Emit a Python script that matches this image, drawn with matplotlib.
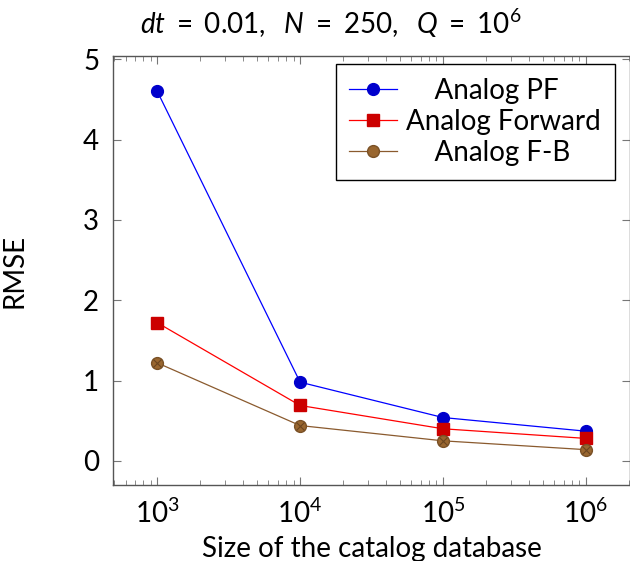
import matplotlib
matplotlib.use("Agg")
import matplotlib.pyplot as plt
from matplotlib.ticker import LogLocator, NullFormatter

plt.rcParams['font.family'] = ['Lato', 'DejaVu Sans']
plt.rcParams['mathtext.fontset'] = 'custom'
plt.rcParams['mathtext.rm'] = 'Lato'
plt.rcParams['mathtext.it'] = 'Lato:italic'
plt.rcParams['mathtext.sf'] = 'Lato'

catalog_sizes = [1e3, 1e4, 1e5, 1e6]
rmse_pf = [4.60, 0.98, 0.54, 0.37]
rmse_forward = [1.72, 0.69, 0.40, 0.28]
rmse_fb = [1.22, 0.44, 0.25, 0.14]
series_labels = ["    Analog PF", "Analog Forward", "    Analog F-B"]
y_ticks = [0, 1, 2, 3, 4, 5]

fig = plt.figure(figsize=(6.3, 5.61), dpi=100)
ax = fig.add_axes([113 / 630, 1 - 485 / 561, 517 / 630, 429 / 561])

ax.plot(catalog_sizes, rmse_pf, color='blue', lw=0.9, marker='o', ms=8.5,
        mfc='#0000cc', mec='#0000cc', label=series_labels[0])
ax.plot(catalog_sizes, rmse_forward, color='red', lw=0.9, marker='s', ms=8,
        mfc='#cc0000', mec='#cc0000', label=series_labels[1])
ax.plot(catalog_sizes, rmse_fb, color='#8a5a2e', lw=0.9, marker='o', ms=8.5,
        mfc='#99662f', mec='#7a5126', label=series_labels[2])
ax.plot(catalog_sizes, rmse_fb, ls='none', marker='x', ms=6, mec='#6b4520',
        mew=0.8)

ax.set_xscale('log')
ax.set_xlim(10 ** 2.69, 10 ** 6.31)
ax.set_ylim(-0.30, 5.04)
ax.set_xticks(catalog_sizes)
ax.set_xticklabels([r'$10^{3}$', r'$10^{4}$', r'$10^{5}$', r'$10^{6}$'])
ax.xaxis.set_minor_locator(LogLocator(base=10, subs=range(2, 10), numticks=20))
ax.xaxis.set_minor_formatter(NullFormatter())
ax.set_yticks(y_ticks)
ax.set_yticklabels([str(v) for v in y_ticks])

for s in ax.spines.values():
    s.set_color('#555555')
    s.set_linewidth(1.0)
ax.tick_params(which='both', direction='in', top=True, right=True,
               color='#777777', labelsize=20)
ax.tick_params(which='major', length=6, width=0.8, pad=10)
ax.tick_params(which='minor', length=3.5, width=0.6)

ax.set_ylabel('RMSE', fontsize=20, labelpad=40)
ax.set_xlabel('Size of the catalog database', fontsize=20, labelpad=6)

fig.text(331 / 630, 1 - 23 / 561, r'$dt\ =\ 0.01,\ \ N\ =\ 250,\ \ Q\ =\ 10^{6}$',
         ha='center', va='center', fontsize=20)

leg = ax.legend(loc='upper right', bbox_to_anchor=(502 / 517, 1 - 8 / 429),
                fontsize=20, frameon=True, fancybox=False, edgecolor='black',
                framealpha=1, borderaxespad=0, handlelength=1.7,
                handletextpad=0.35, labelspacing=0.18, borderpad=0.5)
leg.get_frame().set_linewidth(1.0)

fig.savefig('out.png', dpi=100)
